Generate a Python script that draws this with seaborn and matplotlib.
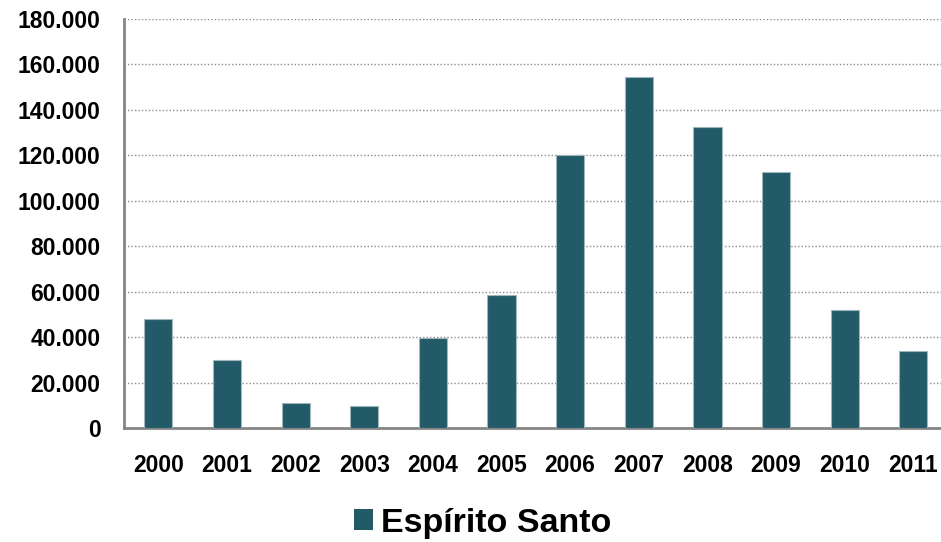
import matplotlib
matplotlib.use("Agg")
import matplotlib.pyplot as plt
import seaborn as sns
import pandas as pd
from matplotlib.ticker import FuncFormatter
from matplotlib.patches import Patch

# =============================================================================
years = ['2000', '2001', '2002', '2003', '2004', '2005',
         '2006', '2007', '2008', '2009', '2010', '2011']
espirito_santo = [48000, 30000, 11000, 9700, 39500, 58500,
                  120000, 154500, 132300, 112500, 51800, 34000]
series_name = 'Espírito Santo'
bar_color = '#235a68'

df = pd.DataFrame({'ano': years, 'valor': espirito_santo})

# =============================================================================
sns.set_style('white')
plt.rcParams['font.family'] = ['Liberation Sans', 'DejaVu Sans']
plt.rcParams['text.color'] = 'black'
plt.rcParams['xtick.color'] = 'black'
plt.rcParams['ytick.color'] = 'black'

fig = plt.figure(figsize=(9.41, 5.42), dpi=100)
ax = fig.add_axes([0.1318, 0.2103, 0.868, 0.7546])

sns.barplot(data=df, x='ano', y='valor', color=bar_color, width=0.41,
            saturation=1, edgecolor='#9fb6bd', linewidth=0.8, ax=ax,
            zorder=3)

ax.set_ylim(0, 180000)
ax.set_yticks(range(0, 180001, 20000))
ax.yaxis.set_major_formatter(
    FuncFormatter(lambda v, p: '{:,.0f}'.format(v).replace(',', '.')))
ax.set_xlim(-0.5, 11.4)

ax.grid(axis='y', linestyle=(0, (1, 1.5)), color='#8c8c8c', linewidth=1.0,
        zorder=0)
ax.set_axisbelow(True)

for side in ['top', 'right']:
    ax.spines[side].set_visible(False)
for side in ['left', 'bottom']:
    ax.spines[side].set_color('#858585')
    ax.spines[side].set_linewidth(2)

ax.tick_params(axis='both', length=0, labelsize=16.5, labelcolor='black')
ax.tick_params(axis='x', pad=19)
ax.tick_params(axis='y', pad=17)
for lbl in ax.get_xticklabels() + ax.get_yticklabels():
    lbl.set_fontweight('bold')

ax.set_xlabel('')
ax.set_ylabel('')

handle = Patch(facecolor=bar_color, edgecolor='none')
fig.legend([handle], [series_name], loc='center', bbox_to_anchor=(0.513, 0.035),
           frameon=False, prop={'weight': 'bold', 'size': 24.5},
           handlelength=0.55, handleheight=0.55, handletextpad=0.25,
           labelcolor='black')

fig.savefig('out.png', dpi=100)
